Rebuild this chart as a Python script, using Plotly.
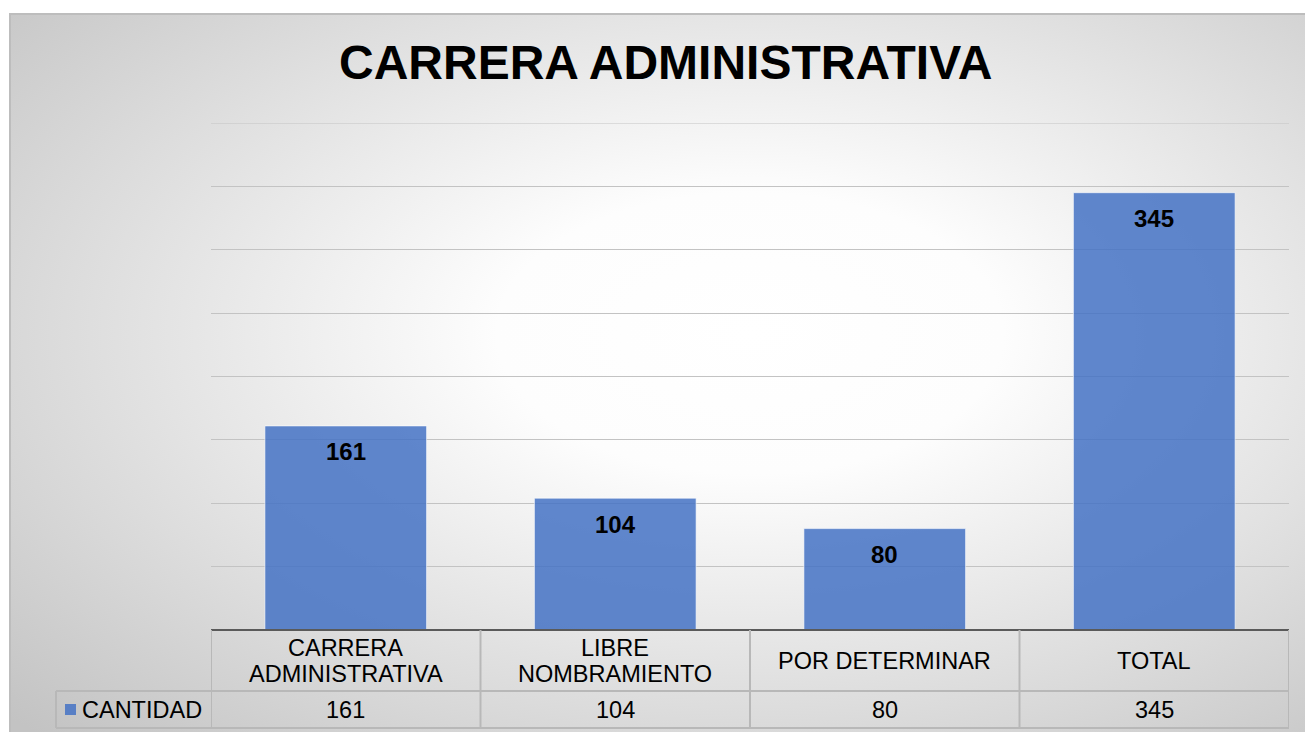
import base64
import plotly.graph_objects as go

# ---- data ----
categories = ["CARRERA ADMINISTRATIVA", "LIBRE NOMBRAMIENTO", "POR DETERMINAR", "TOTAL"]
table_labels = ["CARRERA<br>ADMINISTRATIVA", "LIBRE<br>NOMBRAMIENTO", "POR DETERMINAR", "TOTAL"]
values = [161, 104, 80, 345]
series_name = "CANTIDAD"
title_text = "CARRERA ADMINISTRATIVA"
y_max = 400
y_step = 50

# page body has an 8px margin; figure coordinates are screen coordinates minus OFF
OFF = 8
W, H = 1313 - OFF, 732 - OFF


def px(p):
    return (p - OFF) / W


def py(p):
    return 1 - (p - OFF) / H


FONT = "Liberation Sans, Arial, sans-serif"
BAR_COLOR = "rgba(68,114,196,0.85)"
GRID = "#c3c3c3"
TABLE_LINE = "#b8b8b8"

xs = list(range(len(categories)))

fig = go.Figure()
fig.add_trace(go.Bar(
    x=xs, y=values, name=series_name, width=0.6,
    marker=dict(color=BAR_COLOR, line=dict(color="rgba(255,255,255,0.6)", width=1)),
    hoverinfo="skip", showlegend=False,
))

# background gradient panel
svg = (
    '<svg xmlns="http://www.w3.org/2000/svg" width="1303" height="718" preserveAspectRatio="none">'
    '<defs><radialGradient id="g" cx="0.54" cy="0.42" r="0.74">'
    '<stop offset="0" stop-color="#ffffff"/>'
    '<stop offset="0.25" stop-color="#fdfdfd"/>'
    '<stop offset="1" stop-color="#c3c3c3"/>'
    '</radialGradient></defs>'
    '<rect x="0" y="0" width="1303" height="718" fill="url(#g)"/></svg>'
)
src = "data:image/svg+xml;base64," + base64.b64encode(svg.encode()).decode()

plot_top, plot_bot = 123, 630
x_left, x_right = 211, 1289
hdr_bot, val_bot = 691, 728
leg_left = 56

shapes = []
# panel border
shapes.append(dict(type="rect", xref="paper", yref="paper", x0=px(10), x1=px(1330), y0=py(750), y1=py(14),
                   line=dict(color="#bdbdbd", width=2), fillcolor="rgba(0,0,0,0)", layer="below"))
# top gridline at the range maximum
shapes.append(dict(type="line", xref="paper", yref="y", x0=px(x_left), x1=px(x_right), y0=y_max, y1=y_max,
                   line=dict(color=GRID, width=1), layer="below"))
# table lines
shapes.append(dict(type="line", xref="x", yref="paper", x0=-0.5, x1=len(categories) - 0.5,
                   y0=py(plot_bot), y1=py(plot_bot), line=dict(color="#5a5a5a", width=2)))
for yy in (hdr_bot, val_bot):
    shapes.append(dict(type="line", xref="paper", yref="paper", x0=px(leg_left), x1=px(x_right),
                       y0=py(yy), y1=py(yy), line=dict(color=TABLE_LINE, width=2)))
for i in range(len(categories) + 1):
    shapes.append(dict(type="line", xref="x", yref="paper", x0=i - 0.5, x1=i - 0.5,
                       y0=py(plot_bot), y1=py(val_bot), line=dict(color=TABLE_LINE, width=2)))
shapes.append(dict(type="line", xref="paper", yref="paper", x0=px(leg_left), x1=px(leg_left),
                   y0=py(hdr_bot), y1=py(val_bot), line=dict(color=TABLE_LINE, width=2)))
# legend key
shapes.append(dict(type="rect", xref="paper", yref="paper", x0=px(65), x1=px(76), y0=py(715), y1=py(704),
                   fillcolor=BAR_COLOR, line=dict(width=0)))

annotations = []
annotations.append(dict(text=f"<b>{title_text}</b>", xref="paper", yref="paper", x=px(665), y=py(63),
                        xanchor="center", yanchor="middle", showarrow=False,
                        font=dict(family=FONT, size=48, color="#000000")))
hdr_mid = (plot_bot + hdr_bot) / 2
for i, (lab, v) in enumerate(zip(table_labels, values)):
    annotations.append(dict(text=f"<b>{v}</b>", x=i, y=v, xref="x", yref="y", yshift=-26,
                            xanchor="center", yanchor="middle", showarrow=False,
                            font=dict(family=FONT, size=24, color="#000000")))
    lines = lab.split("<br>")
    n = len(lines)
    for k, ln in enumerate(lines):
        yy = hdr_mid + (k - (n - 1) / 2) * 26
        annotations.append(dict(text=ln, x=i, y=py(yy), xref="x", yref="paper",
                                xanchor="center", yanchor="middle", showarrow=False,
                                font=dict(family=FONT, size=23.5, color="#000000")))
    annotations.append(dict(text=str(v), x=i, y=py((hdr_bot + val_bot) / 2), xref="x", yref="paper",
                            xanchor="center", yanchor="middle", showarrow=False,
                            font=dict(family=FONT, size=23.5, color="#000000")))
annotations.append(dict(text=series_name, xref="paper", yref="paper", x=px(80), y=py((hdr_bot + val_bot) / 2),
                        xanchor="left", yanchor="middle", showarrow=False,
                        font=dict(family=FONT, size=23.5, color="#000000")))

fig.update_layout(
    width=W, height=H,
    margin=dict(l=0, r=0, t=0, b=0),
    paper_bgcolor="#ffffff", plot_bgcolor="rgba(0,0,0,0)",
    images=[dict(source=src, xref="paper", yref="paper", x=px(10), y=py(14),
                 sizex=1.05, sizey=1.05,
                 xanchor="left", yanchor="top", sizing="stretch", layer="below")],
    shapes=shapes, annotations=annotations,
    xaxis=dict(domain=[px(x_left), px(x_right)], range=[-0.5, len(categories) - 0.5],
               showticklabels=False, showgrid=False, zeroline=False, showline=False, ticks=""),
    yaxis=dict(domain=[py(plot_bot), py(plot_top)], range=[0, y_max], dtick=y_step, tick0=0,
               showticklabels=False, showgrid=True, gridcolor=GRID, gridwidth=1,
               zeroline=False, showline=False, ticks=""),
    bargap=0.4, showlegend=False,
)

fig.write_html("out.html")
